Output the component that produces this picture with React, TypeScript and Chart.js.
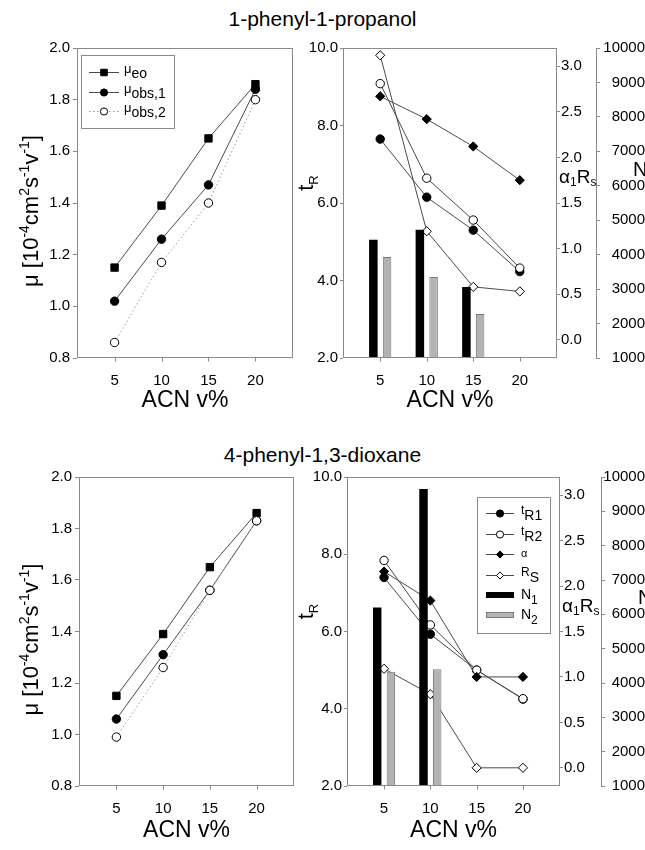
import React, { useEffect, useRef } from 'react';
import { Chart, registerables } from 'chart.js';

Chart.register(...registerables);

const FONT = "'Liberation Sans', Arial, Helvetica, sans-serif";
const LINE = '#4a4a4a';
const AXIS = '#8a8a8a';

// ---------- data ----------
const ACN = [5, 10, 15, 20];
const X_TICKS = [5, 10, 15, 20];
const ALPHA_TICKS = [0, 0.5, 1, 1.5, 2, 2.5, 3];

// 1-phenyl-1-propanol
const PROP_MU_EO = [1.15, 1.39, 1.65, 1.86];
const PROP_MU_OBS1 = [1.02, 1.26, 1.47, 1.84];
const PROP_MU_OBS2 = [0.86, 1.17, 1.4, 1.8];
const PROP_TR1 = [7.65, 6.15, 5.3, 4.23];
const PROP_TR2 = [9.08, 6.64, 5.56, 4.32];
const PROP_ALPHA = [2.67, 2.42, 2.12, 1.75];
const PROP_RS = [3.12, 1.19, 0.58, 0.53];
const PROP_N1 = [4430, 4720, 3060, null];
const PROP_N2 = [3930, 3350, 2280, null];

// 4-phenyl-1,3-dioxane
const DIOX_MU_EO = [1.15, 1.39, 1.65, 1.86];
const DIOX_MU_OBS1 = [1.06, 1.31, 1.56, 1.83];
const DIOX_MU_OBS2 = [0.99, 1.26, 1.56, 1.83];
const DIOX_TR1 = [7.4, 5.93, 5.0, 4.25];
const DIOX_TR2 = [7.84, 6.17, 5.0, 4.26];
const DIOX_ALPHA = [2.16, 1.84, 1.0, 1.0];
const DIOX_RS = [1.09, 0.81, 0.0, 0.0];
const DIOX_N1 = [6200, 9650, null, null];
const DIOX_N2 = [4330, 4400, null, null];

// ---------- text pieces ----------
type Part = { t: string; s: number; dy?: number };
const MU_TITLE: Part[] = [
  { t: 'μ [10', s: 22 }, { t: '-4', s: 14, dy: -9 }, { t: 'cm', s: 22 }, { t: '2', s: 14, dy: -9 },
  { t: 's', s: 22 }, { t: '-1', s: 14, dy: -9 }, { t: 'v', s: 22 }, { t: '-1', s: 14, dy: -9 }, { t: ']', s: 22 },
];
const TR_TITLE: Part[] = [{ t: 't', s: 22 }, { t: 'R', s: 13, dy: 5 }];
const ALPHA_TITLE: Part[] = [{ t: 'α', s: 19 }, { t: '1', s: 12, dy: 3 }, { t: 'R', s: 19 }, { t: 's', s: 12, dy: 3 }];
const N_TITLE: Part[] = [{ t: 'N', s: 20 }];

type Marker = { kind: 'circle' | 'rect' | 'diamond'; filled: boolean; dash?: number[]; color?: string };
const M_SQUARE: Marker = { kind: 'rect', filled: true };
const M_DOT: Marker = { kind: 'circle', filled: true };
const M_OPEN: Marker = { kind: 'circle', filled: false, dash: [1.5, 2.5], color: '#9a9a9a' };
const M_OPEN_SOLID: Marker = { kind: 'circle', filled: false };
const M_DIAM: Marker = { kind: 'diamond', filled: true };
const M_DIAM_OPEN: Marker = { kind: 'diamond', filled: false };

function drawRich(ctx: any, parts: Part[], x: number, y: number, align = 'left', rot = 0) {
  ctx.save();
  ctx.translate(x, y);
  if (rot) ctx.rotate(rot);
  ctx.textBaseline = 'alphabetic';
  ctx.textAlign = 'left';
  ctx.fillStyle = '#000';
  let total = 0;
  const widths = parts.map((p) => {
    ctx.font = `${p.s}px ${FONT}`;
    const w = ctx.measureText(p.t).width;
    total += w;
    return w;
  });
  let cx = align === 'left' ? 0 : align === 'center' ? -total / 2 : -total;
  parts.forEach((p, i) => {
    ctx.font = `${p.s}px ${FONT}`;
    ctx.fillText(p.t, cx, p.dy || 0);
    cx += widths[i];
  });
  ctx.restore();
}

function drawMarker(ctx: any, m: Marker, x: number, y: number, r: number) {
  ctx.save();
  ctx.beginPath();
  if (m.kind === 'circle') ctx.arc(x, y, r, 0, Math.PI * 2);
  else if (m.kind === 'rect') {
    const s = r * Math.SQRT1_2;
    ctx.rect(x - s, y - s, 2 * s, 2 * s);
  } else {
    ctx.moveTo(x, y - r); ctx.lineTo(x + r, y); ctx.lineTo(x, y + r); ctx.lineTo(x - r, y); ctx.closePath();
  }
  ctx.fillStyle = m.filled ? '#000' : '#fff';
  ctx.fill();
  ctx.lineWidth = 1;
  ctx.strokeStyle = '#000';
  ctx.stroke();
  ctx.restore();
}

// plot box plus the outward x tick marks at the x-scale tick values
function drawFrame(chart: any) {
  const { ctx, chartArea: a, scales } = chart;
  ctx.save();
  ctx.strokeStyle = AXIS;
  ctx.lineWidth = 1;
  const l = Math.round(a.left) + 0.5, t = Math.round(a.top) + 0.5;
  const r = Math.round(a.right) - 0.5, b = Math.round(a.bottom) - 0.5;
  ctx.strokeRect(l, t, r - l, b - t);
  ctx.beginPath();
  X_TICKS.forEach((v) => {
    const x = Math.round(scales.x.getPixelForValue(v)) + 0.5;
    ctx.moveTo(x, b);
    ctx.lineTo(x, b + 4);
  });
  ctx.stroke();
  ctx.restore();
}

type LegendItem = { type: 'line' | 'bar'; marker?: Marker; fill?: string; border?: string; parts: Part[] };

function drawLegend(ctx: any, box: { x: number; y: number; w: number; h: number }, items: LegendItem[], rows: number[], sample: number[], textX: number) {
  ctx.save();
  ctx.fillStyle = '#fff';
  ctx.fillRect(box.x, box.y, box.w, box.h);
  ctx.strokeStyle = AXIS;
  ctx.lineWidth = 1;
  ctx.strokeRect(Math.round(box.x) + 0.5, Math.round(box.y) + 0.5, box.w, box.h);
  items.forEach((it, i) => {
    const ry = box.y + rows[i];
    const x0 = box.x + sample[0], x1 = box.x + sample[1];
    if (it.type === 'line' && it.marker) {
      ctx.save();
      ctx.beginPath();
      ctx.strokeStyle = it.marker.color || LINE;
      ctx.lineWidth = 1;
      ctx.setLineDash(it.marker.dash || []);
      ctx.moveTo(x0, Math.round(ry) + 0.5);
      ctx.lineTo(x1, Math.round(ry) + 0.5);
      ctx.stroke();
      ctx.restore();
      drawMarker(ctx, it.marker, (x0 + x1) / 2, Math.round(ry) + 0.5, it.marker.kind === 'rect' ? 4.6 : 3.6);
    } else {
      ctx.fillStyle = it.fill || '#000';
      ctx.fillRect(x0, ry - 3, x1 - x0, 6);
      if (it.border) {
        ctx.strokeStyle = it.border;
        ctx.strokeRect(x0 + 0.5, ry - 2.5, x1 - x0 - 1, 5);
      }
    }
    drawRich(ctx, it.parts, box.x + textX, ry + 1, 'left');
  });
  ctx.restore();
}

function pts(vals: (number | null)[]) {
  return ACN.map((x, i) => ({ x, y: vals[i] })).filter((p) => p.y !== null && p.y !== undefined);
}

function lineDs(label: string, vals: (number | null)[], m: Marker, yAxisID: string) {
  const r = m.kind === 'rect' ? 5.2 : m.kind === 'diamond' ? 4.6 : 4.2;
  return {
    type: 'line',
    label,
    data: pts(vals),
    yAxisID,
    xAxisID: 'x',
    order: 1,
    borderColor: m.color || LINE,
    borderWidth: 1,
    borderDash: m.dash || [],
    fill: false,
    tension: 0,
    pointStyle: m.kind === 'diamond' ? 'rectRot' : m.kind,
    pointRadius: r,
    pointBackgroundColor: m.filled ? '#000' : '#fff',
    pointBorderColor: '#000',
    pointBorderWidth: 1,
  };
}

function barDs(label: string, vals: (number | null)[], fill: string, border: string) {
  return {
    type: 'bar',
    label,
    data: pts(vals),
    yAxisID: 'yN',
    xAxisID: 'x',
    order: 0,
    backgroundColor: fill,
    borderColor: border,
    borderWidth: border === fill ? 0 : 1,
    categoryPercentage: 0.59,
    barPercentage: 0.62,
    grouped: true,
  };
}

const tickFont = { family: FONT, size: 15 };

function xScale(h: number) {
  return {
    type: 'linear',
    position: 'bottom',
    min: 1,
    max: 24,
    offset: false,
    afterBuildTicks: (s: any) => { s.ticks = X_TICKS.map((v) => ({ value: v })); },
    ticks: { autoSkip: false, maxRotation: 0, font: tickFont, color: '#000', padding: 6, callback: (v: any) => String(v) },
    grid: { display: false },
    border: { display: false },
    title: { display: true, text: 'ACN v%', font: { family: FONT, size: 23 }, color: '#000', padding: { top: 0, bottom: 6 } },
    afterFit: (s: any) => { s.height = h; },
  };
}

type MuFrame = { yw: number; right: number; top: number; xh: number };

function muConfig(eo: number[], o1: number[], o2: number[], f: MuFrame, withLegend: boolean): any {
  const decor = {
    id: 'muDecor',
    afterDatasetsDraw(chart: any) {
      const { ctx, chartArea: a } = chart;
      drawFrame(chart);
      drawRich(ctx, MU_TITLE, 38, (a.top + a.bottom) / 2 + 8, 'center', -Math.PI / 2);
      if (withLegend) {
        drawLegend(
          ctx,
          { x: a.left + 4, y: a.top + 7, w: 93, h: 73 },
          [
            { type: 'line', marker: M_SQUARE, parts: [{ t: 'μ', s: 13 }, { t: 'eo', s: 14, dy: 5 }] },
            { type: 'line', marker: M_DOT, parts: [{ t: 'μ', s: 13 }, { t: 'obs,1', s: 14, dy: 5 }] },
            { type: 'line', marker: M_OPEN, parts: [{ t: 'μ', s: 13 }, { t: 'obs,2', s: 14, dy: 5 }] },
          ],
          [17, 36.5, 56],
          [8, 38],
          43
        );
      }
    },
  };
  return {
    type: 'line',
    data: {
      datasets: [
        lineDs('μobs,2', o2, M_OPEN, 'y'),
        lineDs('μobs,1', o1, M_DOT, 'y'),
        lineDs('μeo', eo, M_SQUARE, 'y'),
      ],
    },
    options: {
      responsive: false,
      animation: false,
      events: [],
      layout: { padding: { top: f.top, right: f.right, left: 0, bottom: 0 } },
      plugins: { legend: { display: false }, tooltip: { enabled: false } },
      scales: {
        x: xScale(f.xh),
        y: {
          type: 'linear',
          position: 'left',
          min: 0.8,
          max: 2.0,
          ticks: { stepSize: 0.2, font: tickFont, color: '#000', padding: 3, callback: (v: any) => Number(v).toFixed(1) },
          grid: { drawOnChartArea: false, tickLength: 4, color: AXIS },
          border: { display: false },
          afterFit: (s: any) => { s.width = f.yw; },
        },
      },
    },
    plugins: [decor],
  };
}

type SepFrame = { yw: number; aw: number; nw: number; top: number; xh: number };

function sepConfig(tr1: number[], tr2: number[], al: number[], rs: number[], n1: (number | null)[], n2: (number | null)[], f: SepFrame, withLegend: boolean): any {
  const decor = {
    id: 'sepDecor',
    afterDatasetsDraw(chart: any) {
      const { ctx, chartArea: a, scales } = chart;
      drawFrame(chart);
      drawRich(ctx, TR_TITLE, 18, (a.top + a.bottom) / 2 - 20, 'center', -Math.PI / 2);
      drawRich(ctx, ALPHA_TITLE, a.right + 2, scales.yA.getPixelForValue(2) + 26, 'left');
      drawRich(ctx, N_TITLE, scales.yN.left + 37, scales.yN.getPixelForValue(6500) + 7, 'left');
      if (withLegend) {
        drawLegend(
          ctx,
          { x: a.right - 83, y: a.top + 20, w: 73, h: 136 },
          [
            { type: 'line', marker: M_DOT, parts: [{ t: 't', s: 12 }, { t: 'R1', s: 14, dy: 6 }] },
            { type: 'line', marker: M_OPEN_SOLID, parts: [{ t: 't', s: 12 }, { t: 'R2', s: 14, dy: 6 }] },
            { type: 'line', marker: M_DIAM, parts: [{ t: 'α', s: 11, dy: 2 }] },
            { type: 'line', marker: M_DIAM_OPEN, parts: [{ t: 'R', s: 12 }, { t: 'S', s: 14, dy: 6 }] },
            { type: 'bar', fill: '#000', parts: [{ t: 'N', s: 14, dy: 3 }, { t: '1', s: 12, dy: 8 }] },
            { type: 'bar', fill: '#b3b3b3', border: '#7a7a7a', parts: [{ t: 'N', s: 14, dy: 3 }, { t: '2', s: 12, dy: 8 }] },
          ],
          [16, 36.5, 57, 77.5, 98, 118],
          [9, 37],
          44
        );
      }
    },
  };
  return {
    type: 'line',
    data: {
      datasets: [
        barDs('N1', n1, '#000', '#000'),
        barDs('N2', n2, '#b3b3b3', '#7a7a7a'),
        lineDs('α', al, M_DIAM, 'yA'),
        lineDs('tR2', tr2, M_OPEN_SOLID, 'y'),
        lineDs('tR1', tr1, M_DOT, 'y'),
        lineDs('RS', rs, M_DIAM_OPEN, 'yA'),
      ],
    },
    options: {
      responsive: false,
      animation: false,
      events: [],
      layout: { padding: { top: f.top, right: 0, left: 0, bottom: 0 } },
      plugins: { legend: { display: false }, tooltip: { enabled: false } },
      scales: {
        x: xScale(f.xh),
        y: {
          type: 'linear',
          position: 'left',
          min: 2,
          max: 10,
          ticks: { stepSize: 2, font: tickFont, color: '#000', padding: 2, callback: (v: any) => Number(v).toFixed(1) },
          grid: { drawOnChartArea: false, tickLength: 3, color: AXIS },
          border: { display: false },
          afterFit: (s: any) => { s.width = f.yw; },
        },
        yA: {
          type: 'linear',
          position: 'right',
          weight: 0,
          min: -0.2,
          max: 3.2,
          afterBuildTicks: (s: any) => { s.ticks = ALPHA_TICKS.map((v) => ({ value: v })); },
          ticks: { font: tickFont, color: '#000', padding: 1, callback: (v: any) => Number(v).toFixed(1) },
          grid: { drawOnChartArea: false, tickLength: 3, color: AXIS },
          border: { display: false },
          afterFit: (s: any) => { s.width = f.aw; },
        },
        yN: {
          type: 'linear',
          position: 'right',
          weight: 1,
          min: 1000,
          max: 10000,
          ticks: { stepSize: 1000, font: tickFont, color: '#000', padding: 2, crossAlign: 'far', autoSkip: false, callback: (v: any) => String(v) },
          grid: { drawOnChartArea: false, tickLength: 4, color: AXIS },
          border: { display: true, color: AXIS },
          afterFit: (s: any) => { s.width = f.nw; },
        },
      },
    },
    plugins: [decor],
  };
}

function ChartCanvas({ make, left, top, width, height }: any) {
  const ref = useRef<HTMLCanvasElement>(null);
  useEffect(() => {
    const chart = new Chart(ref.current as HTMLCanvasElement, make());
    return () => chart.destroy();
  }, []);
  return (
    <canvas
      ref={ref}
      width={width}
      height={height}
      style={{ position: 'absolute', left, top, width, height }}
    />
  );
}

const titleStyle: any = {
  position: 'absolute',
  left: 0,
  width: 645,
  textAlign: 'center',
  fontFamily: FONT,
  fontSize: 21,
  lineHeight: '24px',
  color: '#000',
};

export default function App() {
  return (
    <div style={{ position: 'absolute', left: 0, top: 0, width: 645, height: 850, background: '#fff', overflow: 'hidden' }}>
      <div style={{ ...titleStyle, top: 7 }}>1-phenyl-1-propanol</div>
      <div style={{ ...titleStyle, top: 443 }}>4-phenyl-1,3-dioxane</div>
      <ChartCanvas
        left={0} top={0} width={320} height={420}
        make={() => muConfig(PROP_MU_EO, PROP_MU_OBS1, PROP_MU_OBS2, { yw: 77, right: 27, top: 48, xh: 62 }, true)}
      />
      <ChartCanvas
        left={295} top={0} width={350} height={420}
        make={() => sepConfig(PROP_TR1, PROP_TR2, PROP_ALPHA, PROP_RS, PROP_N1, PROP_N2, { yw: 48, aw: 39, nw: 49, top: 48, xh: 62 }, false)}
      />
      <ChartCanvas
        left={0} top={430} width={320} height={420}
        make={() => muConfig(DIOX_MU_EO, DIOX_MU_OBS1, DIOX_MU_OBS2, { yw: 79, right: 26, top: 47, xh: 64 }, false)}
      />
      <ChartCanvas
        left={295} top={430} width={350} height={420}
        make={() => sepConfig(DIOX_TR1, DIOX_TR2, DIOX_ALPHA, DIOX_RS, DIOX_N1, DIOX_N2, { yw: 52, aw: 41, nw: 44, top: 47, xh: 64 }, true)}
      />
    </div>
  );
}
